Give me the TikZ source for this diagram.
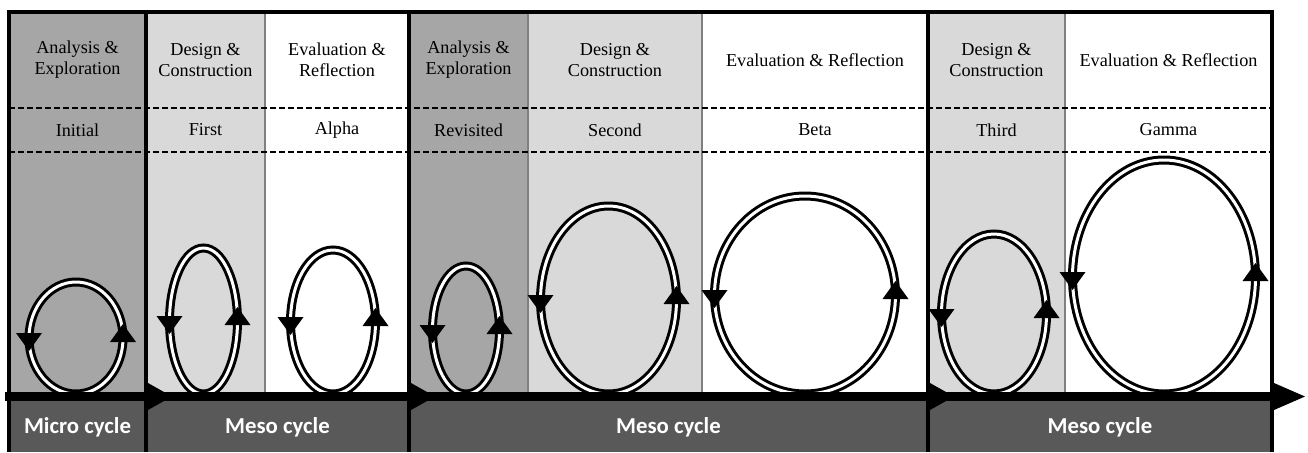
\documentclass[tikz,border=0pt]{standalone}
\usepackage{fontspec}
\setmainfont{Liberation Serif}
\newfontfamily\bandfont{Carlito}
\definecolor{darkcol}{HTML}{A6A6A6}
\definecolor{lightcol}{HTML}{D9D9D9}
\definecolor{bandcol}{HTML}{595959}
\tikzset{
  phase/.style={align=center,inner sep=0pt,font=\fontsize{9.1}{10.6}\selectfont},
  cyclename/.style={text=white,inner sep=0pt,font=\bandfont\bfseries\fontsize{11.4}{13}\selectfont},
  loopline/.style={draw=black,double=white,line width=1.5pt,double distance=1.5pt},
  border/.style={line width=2pt},
}
\begin{document}
\begin{tikzpicture}[x=0.5pt,y=-0.5pt]
  \useasboundingbox (0,0) rectangle (1308,452);

  % columns
  \foreach \xa/\xb/\col in {9/146/darkcol,146/265/lightcol,265/409/white,409/528/darkcol,
                            528/702/lightcol,702/928/white,928/1065/lightcol,1065/1272/white}
    \fill[\col] (\xa,12) rectangle (\xb,401);
  \foreach \x in {265,528,702,1065}
    \draw[gray,line width=0.8pt] (\x,12) -- (\x,396);
  \foreach \y in {108,152}
    \draw[dashed,line width=0.75pt,dash pattern=on 3pt off 1.5pt] (9,\y) -- (1272,\y);

  % phase names
  \node[phase] (ae1) at (77.5,60)  {Analysis \&\\Exploration};
  \node[phase] (dc1) at (205.5,60) {Design \&\\Construction};
  \node[phase] (er1) at (337,60)   {Evaluation \&\\Reflection};
  \node[phase] (ae2) at (468.5,60) {Analysis \&\\Exploration};
  \node[phase] (dc2) at (615,60)   {Design \&\\Construction};
  \node[phase] (er2) at (815,60)   {Evaluation \& Reflection};
  \node[phase] (dc3) at (996.5,60) {Design \&\\Construction};
  \node[phase] (er3) at (1168.5,60){Evaluation \& Reflection};

  \node[phase] (initial)   at (77.5,130)  {Initial};
  \node[phase] (first)     at (205.5,130) {First};
  \node[phase] (alpha)     at (337,130)   {Alpha};
  \node[phase] (revisited) at (468.5,130) {Revisited};
  \node[phase] (second)    at (615,130)   {Second};
  \node[phase] (beta)      at (815,130)   {Beta};
  \node[phase] (third)     at (996.5,130) {Third};
  \node[phase] (gamma)     at (1168.5,130){Gamma};

  % iteration loops
  \foreach \cx/\cy/\rx/\ry in {76/338/47/56,203.5/321/34/73,333/322/42.5/72,466/330/33.5/64,
                               608.5/300/68/94,805/295/90.5/99,994/314/52.5/80,1164/277/91.5/117} {
    \draw[loopline] (\cx,\cy) ellipse [x radius=\rx, y radius=\ry];
    \fill (\cx-\rx-13,\cy-5) -- ++(26,0) -- ++(-13,18) -- cycle;
    \fill (\cx+\rx-13,\cy+4) -- ++(26,0) -- ++(-13,-18) -- cycle;
  }

  % time line and cycle band
  \fill[bandcol] (9,401) rectangle (1272,452);
  \coordinate (start) at (5,396.5);
  \coordinate (end) at (1276,396.5);
  \draw[line width=4.5pt] (start) -- (end);
  \fill (1274,383) -- (1305,396.5) -- (1274,410) -- cycle;
  \foreach \x in {148,411,930}
    \fill (\x,383) -- (\x+24,396.5) -- (\x,410) -- cycle;

  \draw[border] (9,452) -- (9,12) -- (1272,12) -- (1272,452);
  \foreach \x in {146,409,928}
    \draw[border] (\x,12) -- (\x,452);

  \node[cyclename] (micro) at (77.5,427)  {Micro cycle};
  \node[cyclename] (meso1) at (277.5,427) {Meso cycle};
  \node[cyclename] (meso2) at (668.5,427) {Meso cycle};
  \node[cyclename] (meso3) at (1100,427)  {Meso cycle};
\end{tikzpicture}
\end{document}
